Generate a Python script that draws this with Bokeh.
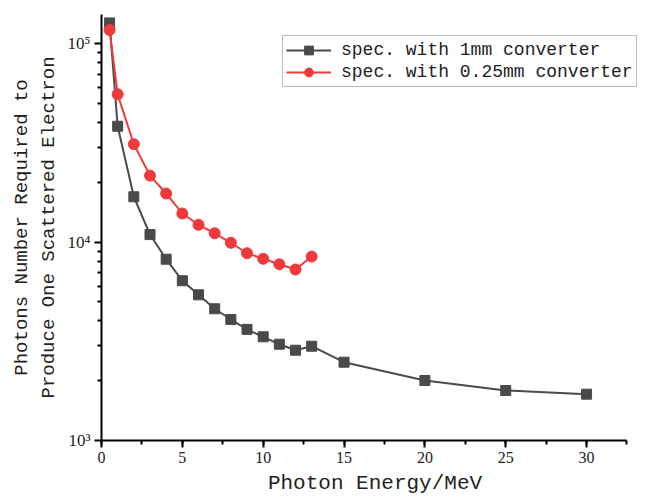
from bokeh.plotting import figure
from bokeh.models import Range1d, SingleIntervalTicker, FixedTicker, CustomJSTickFormatter, Legend, LegendItem
from bokeh.embed import file_html
from bokeh.resources import INLINE

# Data
energy_1mm = [0.5, 1, 2, 3, 4, 5, 6, 7, 8, 9, 10, 11, 12, 13, 15, 20, 25, 30]
photons_1mm = [127000, 38300, 16900, 10900, 8190, 6380, 5420, 4610, 4070, 3630,
               3330, 3055, 2850, 2985, 2480, 2005, 1786, 1711]
energy_025mm = [0.5, 1, 2, 3, 4, 5, 6, 7, 8, 9, 10, 11, 12, 13]
photons_025mm = [117000, 55500, 31100, 21600, 17550, 13920, 12210, 11070, 9910,
                 8780, 8230, 7730, 7270, 8450]
label_1mm = "spec. with 1mm converter"
label_025mm = "spec. with 0.25mm converter"
x_label = "Photon Energy/MeV"
y_label = "Photons Number Required to\nProduce One Scattered Electron"
y_major = [1e3, 1e4, 1e5]

BLACK = "#4a4a4a"
RED = "#ee3a3b"
MONO = "Liberation Mono"
SERIF = "Liberation Serif"

p = figure(width=652, height=500, output_backend="svg", toolbar_location=None,
           y_axis_type="log",
           x_range=Range1d(0, 33.83), y_range=Range1d(1000, 140000),
           min_border_left=101, min_border_right=4, min_border_top=14, min_border_bottom=60)
p.outline_line_color = None
p.xgrid.visible = False
p.ygrid.visible = False

r1l = p.line(energy_1mm, photons_1mm, line_color=BLACK, line_width=2)
r1m = p.scatter(energy_1mm, photons_1mm, marker="square", size=10, fill_color=BLACK, line_color=BLACK)
r2l = p.line(energy_025mm, photons_025mm, line_color=RED, line_width=2)
r2m = p.scatter(energy_025mm, photons_025mm, marker="circle", size=11, fill_color=RED, line_color=RED)

# Axes
p.xaxis.ticker = SingleIntervalTicker(interval=5, num_minor_ticks=2)
p.xaxis.bounds = (0, 32.5)
minor = [m * d for d in [1e3, 1e4, 1e5] for m in range(2, 10)]
p.yaxis.ticker = FixedTicker(ticks=y_major, minor_ticks=minor)
p.yaxis.formatter = CustomJSTickFormatter(code="""
const sup = ['\u2070','\u00b9','\u00b2','\u00b3','\u2074','\u2075','\u2076','\u2077','\u2078','\u2079'];
const e = Math.round(Math.log10(tick));
return '10' + String(e).split('').map(c => sup[+c]).join('');
""")

for ax in (p.xaxis[0], p.yaxis[0]):
    ax.axis_line_width = 2
    ax.axis_line_color = "black"
    ax.major_tick_line_width = 2
    ax.minor_tick_line_width = 2
    ax.major_tick_line_color = "black"
    ax.minor_tick_line_color = "black"
    ax.major_tick_out = 7
    ax.major_tick_in = 0
    ax.minor_tick_out = 4
    ax.minor_tick_in = 0
    ax.major_label_text_font = SERIF
    ax.major_label_text_font_size = "16px"
    ax.major_label_text_color = "#222222"
    ax.axis_label_text_font = MONO
    ax.axis_label_text_font_style = "normal"
    ax.axis_label_text_color = "#222222"

p.xaxis.axis_label = x_label
p.yaxis.axis_label = y_label
p.xaxis.axis_label_text_font_size = "21px"
p.yaxis.axis_label_text_font_size = "19px"
p.yaxis.major_label_text_font_size = "17px"
p.xaxis.major_label_standoff = 4
p.xaxis.axis_label_standoff = 6
p.yaxis.major_label_standoff = 4
p.yaxis.axis_label_standoff = 5

legend = Legend(items=[LegendItem(label=label_1mm, renderers=[r1l, r1m]),
                       LegendItem(label=label_025mm, renderers=[r2l, r2m])],
                location=(181, 353))
legend.label_text_font = MONO
legend.label_text_font_size = "18px"
legend.label_text_color = "#222222"
legend.glyph_width = 45
legend.glyph_height = 22
legend.label_height = 22
legend.label_standoff = 10
legend.spacing = 0
legend.padding = 3
legend.margin = 0
legend.border_line_color = "#777777"
legend.border_line_width = 1.5
legend.background_fill_color = "white"
legend.background_fill_alpha = 1
p.add_layout(legend)

open("out.html", "w").write(file_html(p, INLINE))
